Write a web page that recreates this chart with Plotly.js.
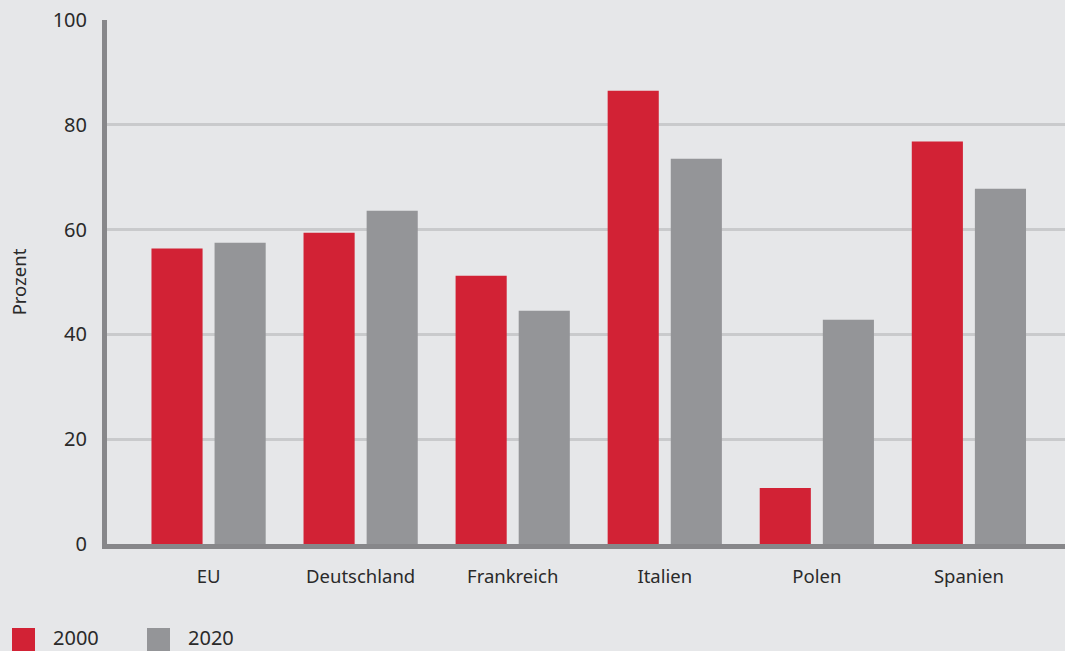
<!DOCTYPE html>
<html>
<head>
<meta charset="utf-8">
<script src="https://cdn.plot.ly/plotly-3.0.1.min.js"></script>
<style>
html,body{margin:0;padding:0;background:#e6e7e9;}
#chart{width:1065px;height:651px;}
</style>
</head>
<body>
<div id="chart"></div>
<script>
const categories = ["EU", "Deutschland", "Frankreich", "Italien", "Polen", "Spanien"];
const seriesNames = ["2000", "2020"];
const values2000 = [56.4, 59.4, 51.2, 86.5, 10.7, 76.8];
const values2020 = [57.5, 63.6, 44.5, 73.5, 42.8, 67.8];
const yTicks = [0, 20, 40, 60, 80, 100];
const yTitle = "Prozent";

const colors = ["#d22235", "#949598"];
const textColor = "#2a2a2a";
const fontFam = "'Noto Sans', 'Open Sans', sans-serif";

const traces = [values2000, values2020].map((v, i) => ({
  type: "bar",
  name: seriesNames[i],
  x: categories,
  y: v,
  marker: {color: colors[i], line: {width: 0}},
  showlegend: false,
  hoverinfo: "x+y+name"
}));

// custom legend (large swatches)
const legX = [12, 147];
const shapes = [];
const annotations = [];
seriesNames.forEach((n, i) => {
  shapes.push({type: "rect", xref: "paper", yref: "paper",
    x0: (legX[i] - 107) / 958, x1: (legX[i] + 23 - 107) / 958,
    y0: -(628 - 544) / 524, y1: -(652 - 544) / 524,
    fillcolor: colors[i], line: {width: 0}});
  annotations.push({xref: "paper", yref: "paper",
    x: (legX[i] + 39 - 107) / 958, y: -(637 - 544) / 524,
    xanchor: "left", yanchor: "middle", showarrow: false,
    text: n, font: {family: fontFam, size: 20, color: textColor}});
});

const layout = {
  width: 1065, height: 651,
  margin: {l: 107, r: 0, t: 20, b: 107, pad: 0},
  paper_bgcolor: "#e6e7e9",
  plot_bgcolor: "#e6e7e9",
  font: {family: fontFam, size: 18, color: textColor},
  barmode: "group",
  bargap: 0.17,
  bargroupgap: 0.19,
  xaxis: {
    range: [-0.668, 5.632],
    showgrid: false,
    zeroline: false,
    showline: true,
    linecolor: "#87878a",
    linewidth: 5,
    ticks: "",
    ticklabelstandoff: 12,
    tickfont: {family: fontFam, size: 18.5, color: textColor},
    fixedrange: true
  },
  yaxis: {
    range: [0, 100],
    tickvals: yTicks,
    ticktext: yTicks.map(String),
    showgrid: true,
    gridcolor: "#c9cacc",
    gridwidth: 3,
    zeroline: false,
    showline: true,
    linecolor: "#87878a",
    linewidth: 5,
    ticks: "",
    ticklabelstandoff: 11,
    tickfont: {family: fontFam, size: 20, color: textColor},
    title: {text: yTitle, font: {family: fontFam, size: 18.5, color: textColor}, standoff: 23},
    fixedrange: true
  },
  shapes: shapes,
  annotations: annotations
};

Plotly.newPlot("chart", traces, layout, {displayModeBar: false, staticPlot: true});
</script>
</body>
</html>
